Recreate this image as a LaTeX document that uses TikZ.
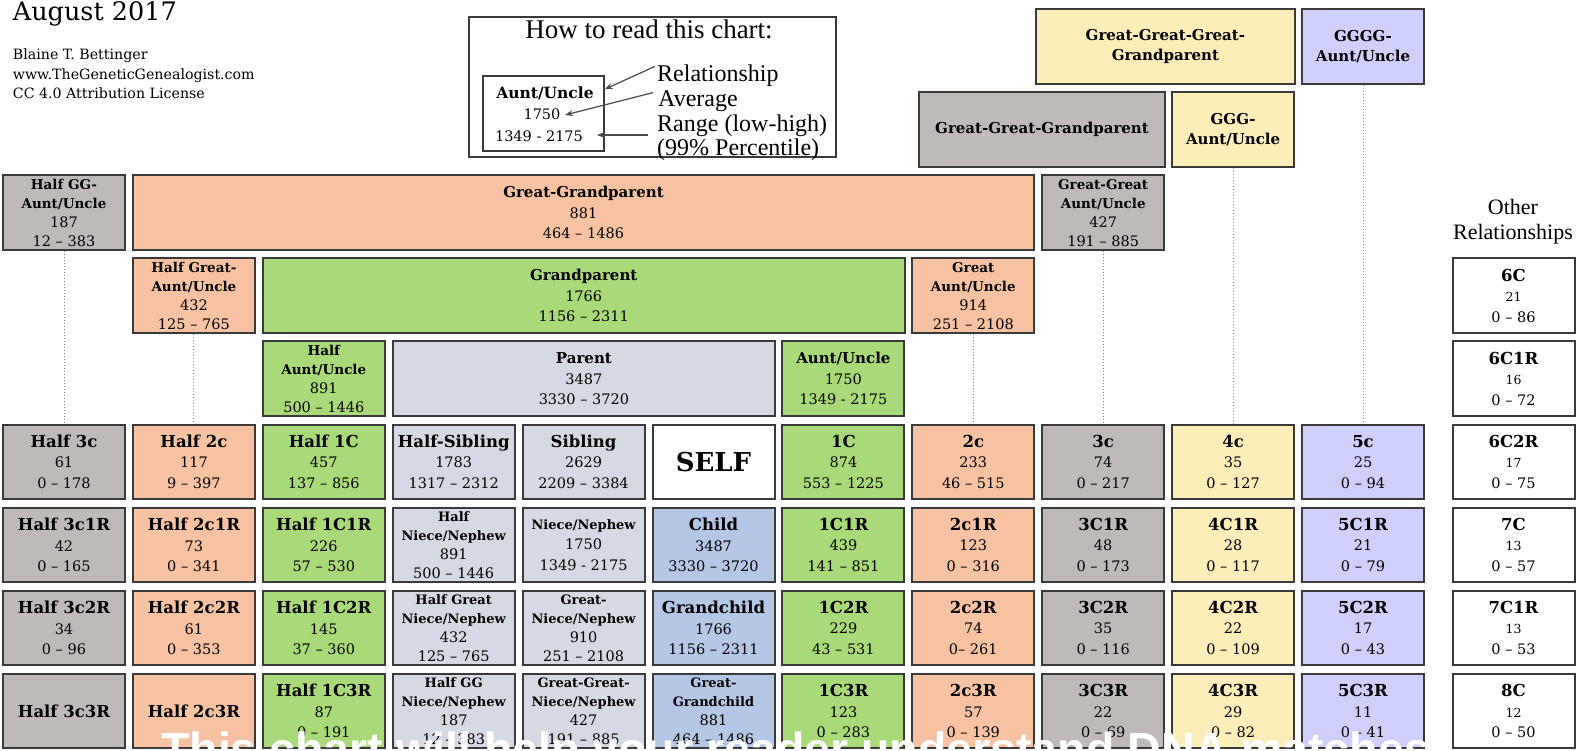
\documentclass[tikz,border=0pt]{standalone}
\usepackage{fontspec}
\setmainfont{DejaVu Serif}
\newfontfamily\legfont{Liberation Serif}
\newfontfamily\capfont{Liberation Sans}
\usetikzlibrary{arrows.meta}
\definecolor{gry}{HTML}{BFB9B8}
\definecolor{org}{HTML}{F7C2A1}
\definecolor{grn}{HTML}{A9DA79}
\definecolor{lgr}{HTML}{D5D9E3}
\definecolor{blu}{HTML}{B4C7E7}
\definecolor{yel}{HTML}{FDEDB8}
\definecolor{pur}{HTML}{CFCFFC}
\definecolor{edgec}{HTML}{3A3A3A}
\definecolor{dotc}{HTML}{8A8A8A}
\definecolor{arrc}{HTML}{4A4A4A}
\newcommand\cT[1]{{\bfseries\fontsize{16.5}{20.5}\selectfont #1}}
\newcommand\cS[1]{{\bfseries\fontsize{15}{19}\selectfont #1}}
\newcommand\cF[1]{{\bfseries\fontsize{13.5}{19}\selectfont #1}}
\newcommand\cW[1]{{\bfseries\fontsize{13}{19}\selectfont #1}}
\newcommand\cN[1]{{\fontsize{12.5}{20.5}\selectfont #1}}
\tikzset{
  cellbox/.style={draw=edgec, line width=2pt, inner sep=0pt, align=center,
    minimum width=122pt, minimum height=74.5pt, font=\fontsize{14.5}{20.5}\selectfont},
  tightbox/.style={cellbox, font=\fontsize{14.5}{19}\selectfont},
  dotline/.style={draw=dotc, line width=1pt, dotted},
  legarrow/.style={draw=arrc, line width=1.2pt, -{Stealth[length=8pt,width=6pt]}},
  hdr/.style={anchor=base west, inner sep=0pt, font=\fontsize{14.2}{19.5}\selectfont},
  legtxt/.style={anchor=base west, inner sep=0pt, font=\legfont\fontsize{24}{25}\selectfont},
}
\begin{document}
\begin{tikzpicture}[x=1pt,y=-1pt]
\clip (0,0) rectangle (1580,751);
\fill[white] (0,0) rectangle (1580,751);

% header
\node[anchor=base west, inner sep=0pt, font=\fontsize{25.5}{30}\selectfont] (date) at (12.7,21) {August 2017};
\node[hdr] (auth) at (12.7,60) {Blaine T. Bettinger};
\node[hdr] (web) at (12.7,79.5) {www.TheGeneticGenealogist.com};
\node[hdr] (lic) at (12.7,99) {CC 4.0 Attribution License};

% legend
\node[draw=edgec, line width=2pt, minimum width=366.6pt, minimum height=140.3pt, inner sep=0pt] (legend) at (652.7,87.15) {};
\node[draw=edgec, line width=2pt, minimum width=121.4pt, minimum height=74.7pt, inner sep=0pt] (legbox) at (543.7,113.35) {};
\node[anchor=base, inner sep=0pt, font=\legfont\fontsize{27}{30}\selectfont] (howto) at (649,38.3) {How to read this chart:};
\node[anchor=base, inner sep=0pt, font=\bfseries\fontsize{15.5}{18}\selectfont] (lau) at (545,98.3) {Aunt/Uncle};
\node[anchor=base, inner sep=0pt, font=\fontsize{14.5}{16}\selectfont] (lavg) at (542,120) {1750};
\node[anchor=base, inner sep=0pt, font=\fontsize{14.5}{16}\selectfont] (lrng) at (539,141.7) {1349 - 2175};
\node[legtxt] (lrel) at (657,81.7) {Relationship};
\node[legtxt] (lav) at (658,106.7) {Average};
\node[legtxt] (lrg) at (657,131.7) {Range (low-high)};
\node[legtxt] (lpc) at (657,156) {(99\% Percentile)};
\coordinate (t1) at (604.7,89.3);
\coordinate (t2) at (565,115);
\coordinate (s3) at (648,135);
\coordinate (t3) at (597,135);
\draw[legarrow] ([xshift=-2pt,yshift=-1.5pt]lrel.north west) -- (t1);
\draw[legarrow] ([xshift=-5pt,yshift=-2pt]lav.north west) -- (t2);
\draw[legarrow] (s3) -- (t3);

% other relationships heading
\node[anchor=base, inner sep=0pt, font=\legfont\fontsize{22}{24}\selectfont] (oth1) at (1513,215) {Other};
\node[anchor=base, inner sep=0pt, font=\legfont\fontsize{22}{24}\selectfont] (oth2) at (1513,239.3) {Relationships};

% row A
\node[cellbox, fill=yel, minimum width=258.2pt] (gggp) at (1165.4,46.5) {\cS{Great-Great-Great-}\\\cS{Grandparent}};
\node[cellbox, fill=pur] (gggga) at (1363,46.5) {\cS{GGGG-}\\\cS{Aunt/Uncle}};
% row B
\node[cellbox, fill=gry, minimum width=245.6pt] (ggp) at (1042,129.6) {\cS{Great-Great-Grandparent}};
\node[cellbox, fill=yel] (ggga) at (1233.1,129.6) {\cS{GGG-}\\\cS{Aunt/Uncle}};
% row C
\node[tightbox, fill=gry] (hgga) at (64,212.6) {\cF{Half GG-}\\\cF{Aunt/Uncle}\\187\\12 – 383};
\node[cellbox, fill=org, minimum width=901.6pt] (gp3) at (583.5,212.6) {\cS{Great-Grandparent}\\881\\464 – 1486};
\node[tightbox, fill=gry] (gga) at (1103.2,212.6) {\cF{Great-Great}\\\cF{Aunt/Uncle}\\427\\191 – 885};
% row D
\node[tightbox, fill=org] (hga) at (193.9,295.7) {\cF{Half Great-}\\\cF{Aunt/Uncle}\\432\\125 – 765};
\node[cellbox, fill=grn, minimum width=642pt] (gp) at (583.7,295.7) {\cS{Grandparent}\\1766\\1156 – 2311};
\node[tightbox, fill=org] (ga) at (973.3,295.7) {\cF{Great}\\\cF{Aunt/Uncle}\\914\\251 – 2108};
\node[cellbox, fill=white] (o6c) at (1513.5,295.7) {\cT{6C}\\\cN{21}\\0 – 86};
% row E
\node[tightbox, fill=grn] (hau) at (323.8,378.7) {\cF{Half}\\\cF{Aunt/Uncle}\\891\\500 – 1446};
\node[cellbox, fill=lgr, minimum width=382pt] (par) at (583.9,378.7) {\cS{Parent}\\3487\\3330 – 3720};
\node[cellbox, fill=grn] (au) at (843.4,378.7) {\cS{Aunt/Uncle}\\1750\\1349 - 2175};
\node[cellbox, fill=white] (o6c1r) at (1513.5,378.7) {\cT{6C1R}\\\cN{16}\\0 – 72};
% row F
\node[cellbox, fill=gry] (h3c) at (64,461.8) {\cT{Half 3c}\\61\\0 – 178};
\node[cellbox, fill=org] (h2c) at (193.9,461.8) {\cT{Half 2c}\\117\\9 – 397};
\node[cellbox, fill=grn] (h1c) at (323.8,461.8) {\cT{Half 1C}\\457\\137 – 856};
\node[cellbox, fill=lgr] (hsib) at (453.7,461.8) {\cT{Half-Sibling}\\1783\\1317 – 2312};
\node[cellbox, fill=lgr] (sib) at (583.6,461.8) {\cT{Sibling}\\2629\\2209 – 3384};
\node[cellbox, fill=white, font=\bfseries\fontsize{26}{30}\selectfont] (self) at (713.5,461.8) {SELF};
\node[cellbox, fill=grn] (c1) at (843.4,461.8) {\cT{1C}\\874\\553 – 1225};
\node[cellbox, fill=org] (c2) at (973.3,461.8) {\cT{2c}\\233\\46 – 515};
\node[cellbox, fill=gry] (c3) at (1103.2,461.8) {\cT{3c}\\74\\0 – 217};
\node[cellbox, fill=yel] (c4) at (1233.1,461.8) {\cT{4c}\\35\\0 – 127};
\node[cellbox, fill=pur] (c5) at (1363,461.8) {\cT{5c}\\25\\0 – 94};
\node[cellbox, fill=white] (o6c2r) at (1513.5,461.8) {\cT{6C2R}\\\cN{17}\\0 – 75};
% row G
\node[cellbox, fill=gry] (h3c1) at (64,544.9) {\cT{Half 3c1R}\\42\\0 – 165};
\node[cellbox, fill=org] (h2c1) at (193.9,544.9) {\cT{Half 2c1R}\\73\\0 – 341};
\node[cellbox, fill=grn] (h1c1) at (323.8,544.9) {\cT{Half 1C1R}\\226\\57 – 530};
\node[tightbox, fill=lgr] (hnn) at (453.7,544.9) {\cW{Half}\\\cW{Niece/Nephew}\\891\\500 – 1446};
\node[cellbox, fill=lgr] (nn) at (583.6,544.9) {\cW{Niece/Nephew}\\1750\\1349 - 2175};
\node[cellbox, fill=blu] (child) at (713.5,544.9) {\cT{Child}\\3487\\3330 – 3720};
\node[cellbox, fill=grn] (c1r1) at (843.4,544.9) {\cT{1C1R}\\439\\141 – 851};
\node[cellbox, fill=org] (c2r1) at (973.3,544.9) {\cT{2c1R}\\123\\0 – 316};
\node[cellbox, fill=gry] (c3r1) at (1103.2,544.9) {\cT{3C1R}\\48\\0 – 173};
\node[cellbox, fill=yel] (c4r1) at (1233.1,544.9) {\cT{4C1R}\\28\\0 – 117};
\node[cellbox, fill=pur] (c5r1) at (1363,544.9) {\cT{5C1R}\\21\\0 – 79};
\node[cellbox, fill=white] (o7c) at (1513.5,544.9) {\cT{7C}\\\cN{13}\\0 – 57};
% row H
\node[cellbox, fill=gry] (h3c2) at (64,627.9) {\cT{Half 3c2R}\\34\\0 – 96};
\node[cellbox, fill=org] (h2c2) at (193.9,627.9) {\cT{Half 2c2R}\\61\\0 – 353};
\node[cellbox, fill=grn] (h1c2) at (323.8,627.9) {\cT{Half 1C2R}\\145\\37 – 360};
\node[tightbox, fill=lgr] (hgnn) at (453.7,627.9) {\cW{Half Great}\\\cW{Niece/Nephew}\\432\\125 – 765};
\node[tightbox, fill=lgr] (gnn) at (583.6,627.9) {\cW{Great-}\\\cW{Niece/Nephew}\\910\\251 – 2108};
\node[cellbox, fill=blu] (gchild) at (713.5,627.9) {\cT{Grandchild}\\1766\\1156 – 2311};
\node[cellbox, fill=grn] (c1r2) at (843.4,627.9) {\cT{1C2R}\\229\\43 – 531};
\node[cellbox, fill=org] (c2r2) at (973.3,627.9) {\cT{2c2R}\\74\\0– 261};
\node[cellbox, fill=gry] (c3r2) at (1103.2,627.9) {\cT{3C2R}\\35\\0 – 116};
\node[cellbox, fill=yel] (c4r2) at (1233.1,627.9) {\cT{4C2R}\\22\\0 – 109};
\node[cellbox, fill=pur] (c5r2) at (1363,627.9) {\cT{5C2R}\\17\\0 – 43};
\node[cellbox, fill=white] (o7c1r) at (1513.5,627.9) {\cT{7C1R}\\\cN{13}\\0 – 53};
% row I
\node[cellbox, fill=gry] (h3c3) at (64,711) {\cT{Half 3c3R}};
\node[cellbox, fill=org] (h2c3) at (193.9,711) {\cT{Half 2c3R}};
\node[cellbox, fill=grn] (h1c3) at (323.8,711) {\cT{Half 1C3R}\\87\\0 – 191};
\node[tightbox, fill=lgr] (hggnn) at (453.7,711) {\cW{Half GG}\\\cW{Niece/Nephew}\\187\\12 – 383};
\node[tightbox, fill=lgr] (ggnn) at (583.6,711) {\cW{Great-Great-}\\\cW{Niece/Nephew}\\427\\191 – 885};
\node[tightbox, fill=blu] (ggchild) at (713.5,711) {\cW{Great-}\\\cW{Grandchild}\\881\\464 – 1486};
\node[cellbox, fill=grn] (c1r3) at (843.4,711) {\cT{1C3R}\\123\\0 – 283};
\node[cellbox, fill=org] (c2r3) at (973.3,711) {\cT{2c3R}\\57\\0 – 139};
\node[cellbox, fill=gry] (c3r3) at (1103.2,711) {\cT{3C3R}\\22\\0 – 69};
\node[cellbox, fill=yel] (c4r3) at (1233.1,711) {\cT{4C3R}\\29\\0 – 82};
\node[cellbox, fill=pur] (c5r3) at (1363,711) {\cT{5C3R}\\11\\0 – 41};
\node[cellbox, fill=white] (o8c) at (1513.5,711) {\cT{8C}\\\cN{12}\\0 – 50};

% dotted connectors
\draw[dotline] (hgga.south) -- (hgga.south |- h3c.north);
\draw[dotline] (hga.south) -- (hga.south |- h2c.north);
\draw[dotline] (ga.south) -- (ga.south |- c2.north);
\draw[dotline] (gga.south) -- (gga.south |- c3.north);
\draw[dotline] (ggga.south) -- (ggga.south |- c4.north);
\draw[dotline] (gggga.south) -- (gggga.south |- c5.north);

% caption overlay
\node[anchor=base west, inner sep=0pt, text=white, font=\capfont\bfseries\fontsize{46.5}{50}\selectfont] (caption) at (161,765) {This chart will help your reader understand DNA matches};
\end{tikzpicture}
\end{document}
